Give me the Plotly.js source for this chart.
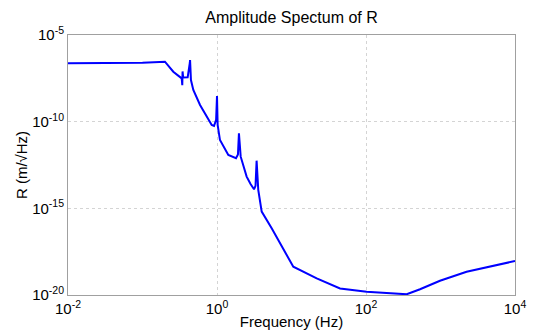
<!DOCTYPE html>
<html>
<head>
<meta charset="utf-8">
<script src="https://cdn.plot.ly/plotly-3.0.1.min.js"></script>
<style>html,body{margin:0;padding:0;background:#fff;}#chart{width:533px;height:333px;}</style>
</head>
<body>
<div id="chart"></div>
<script>
var freqHz = [0.01, 0.0316, 0.1, 0.2, 0.259, 0.336, 0.342, 0.345, 0.351, 0.404, 0.422, 0.432, 0.435, 0.439, 0.447, 0.481, 0.592, 0.849, 0.912, 0.973, 1.0, 1.02, 1.096, 1.419, 1.80, 1.91, 1.97, 2.08, 2.50, 2.82, 3.14, 3.29, 3.40, 3.58, 3.98, 5.42, 10.57, 21.8, 44.8, 102, 352, 531, 984, 2239, 10000];
var ampR = [2.34e-7, 2.34e-7, 2.51e-7, 2.88e-7, 7.59e-8, 3.16e-8, 1.26e-8, 7.94e-8, 3.55e-8, 3.63e-8, 1e-7, 2.51e-7, 3.63e-7, 1e-7, 2.51e-8, 6.76e-9, 9.12e-10, 6.46e-11, 5.62e-11, 1.26e-10, 3.02e-9, 6.46e-11, 8.71e-12, 1.2e-12, 7.76e-13, 1.26e-12, 2.14e-11, 9.55e-13, 6.76e-14, 2.51e-14, 1.26e-14, 2.0e-14, 5.62e-13, 1.17e-14, 6.46e-16, 7.08e-17, 4.27e-19, 9.12e-20, 2.4e-20, 1.55e-20, 1.1e-20, 2.14e-20, 6.61e-20, 2.19e-19, 9.12e-19];
var xTickVals = [0.01, 1, 100, 10000];
var xTickText = ['10<sup>-2</sup>', '10<sup>0</sup>', '10<sup>2</sup>', '10<sup>4</sup>'];
var yTickVals = [1e-20, 1e-15, 1e-10, 1e-5];
var yTickText = ['10<sup>-20</sup>', '10<sup>-15</sup>', '10<sup>-10</sup>', '10<sup>-5</sup>'];

var fontFam = '"Liberation Sans", Arial, Helvetica, sans-serif';
var trace = {
  x: freqHz, y: ampR, type: 'scatter', mode: 'lines',
  line: {color: '#0000ff', width: 2}, hoverinfo: 'none'
};
var layout = {
  width: 533, height: 333,
  margin: {l: 68, r: 18, t: 35, b: 38},
  paper_bgcolor: '#ffffff', plot_bgcolor: '#ffffff',
  showlegend: false,
  font: {family: fontFam, size: 14, color: '#000'},
  title: {text: 'Amplitude Spectum of R', font: {family: fontFam, size: 16, color: '#000'}, x: 0.5, xref: 'paper', y: 0.949, yref: 'container', yanchor: 'middle'},
  xaxis: {
    type: 'log', range: [-2, 4], tickvals: xTickVals, ticktext: xTickText,
    showgrid: true, gridcolor: '#d4d4d4', griddash: 'dot', gridwidth: 1,
    showline: true, linecolor: '#a0a0a0', linewidth: 1, mirror: true,
    ticks: '', zeroline: false, tickfont: {size: 15}, ticklabelstandoff: 0,
    title: {text: 'Frequency (Hz)', font: {size: 15}, standoff: 0}
  },
  yaxis: {
    type: 'log', range: [-20, -5], tickvals: yTickVals, ticktext: yTickText,
    showgrid: true, gridcolor: '#d4d4d4', griddash: 'dot', gridwidth: 1,
    showline: true, linecolor: '#a0a0a0', linewidth: 1, mirror: true,
    ticks: '', zeroline: false, tickfont: {size: 15},
    title: {text: 'R (m/√Hz)', font: {size: 15}, standoff: 0}
  }
};
Plotly.newPlot('chart', [trace], layout, {staticPlot: true, displayModeBar: false});
</script>
</body>
</html>
